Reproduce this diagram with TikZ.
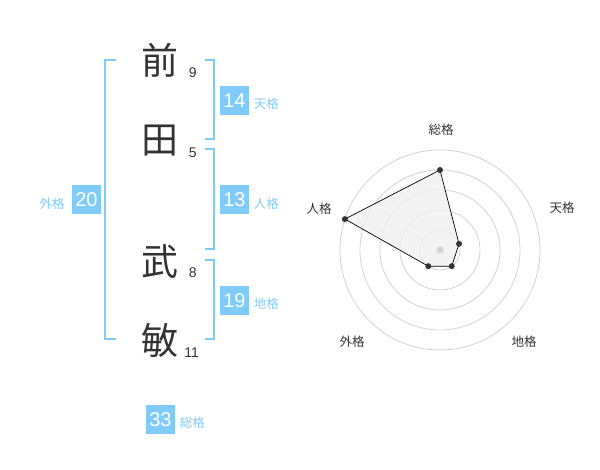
\documentclass[tikz,border=0pt]{standalone}
\usepackage{fontspec}
\setmainfont{Liberation Sans}
\newfontfamily\jpfont{Noto Sans CJK JP}
\usetikzlibrary{positioning}
\definecolor{kakublue}{RGB}{127,204,250}
\definecolor{inkgray}{RGB}{51,51,51}
\definecolor{ringgray}{RGB}{210,210,210}
\definecolor{areagray}{RGB}{240,240,240}

\begin{document}
\begin{tikzpicture}[x=1pt,y=-1pt,
 kanji/.style={font=\jpfont\fontsize{37}{37}\selectfont,text=inkgray,inner sep=0pt},
 strokes/.style={font=\fontsize{14}{14}\selectfont,text=inkgray,inner sep=0pt},
 kakubox/.style={fill=kakublue,text=white,minimum size=29pt,inner sep=0pt,font=\fontsize{20}{20}\selectfont},
 kakuname/.style={font=\jpfont\fontsize{12.5}{12.5}\selectfont,text=kakublue,inner sep=0pt},
 radarname/.style={font=\jpfont\fontsize{12.5}{12.5}\selectfont,text=inkgray,inner sep=0pt},
 bracket/.style={kakublue,line width=1.6pt},
 ring/.style={ringgray,line width=0.8pt},
 dot/.style={circle,fill=inkgray,inner sep=0pt,minimum size=6pt}]
 \useasboundingbox (0,0) rectangle (600,470);

 \node[kanji] (k1) at (160,60) {前};
 \node[kanji] (k2) at (160,141) {田};
 \node[kanji] (k3) at (160,262) {武};
 \node[kanji] (k4) at (160,340) {敏};
 \node[strokes] (s1) at (192.7,72.7) {9};
 \node[strokes] (s2) at (192.7,152.7) {5};
 \node[strokes] (s3) at (192.7,272.7) {8};
 \node[strokes] (s4) at (191.7,352.7) {11};

 \draw[bracket] (116,60)--(105,60)--(105,339)--(116,339);
 \draw[bracket] (205,60)--(214,60)--(214,139)--(205,139);
 \draw[bracket] (205,149)--(214,149)--(214,249)--(205,249);
 \draw[bracket] (205,260)--(214,260)--(214,339)--(205,339);

 \node[kakubox] (ten) at (234.5,100.3) {14};
 \node[kakubox] (jin) at (234.5,200) {13};
 \node[kakubox] (chi) at (234.5,300.3) {19};
 \node[kakubox] (gai) at (86.5,200) {20};
 \node[kakubox] (sou) at (160.5,419.3) {33};
 \node[kakuname,right=4.5pt of ten,yshift=-3.5pt] (tenname) {天格};
 \node[kakuname,right=4.5pt of jin,yshift=-3.5pt] (jinname) {人格};
 \node[kakuname,right=4.5pt of chi,yshift=-3.5pt] (chiname) {地格};
 \node[kakuname,left=7pt of gai,yshift=-3.5pt] (gainame) {外格};
 \node[kakuname,right=4.5pt of sou,yshift=-3.5pt] (souname) {総格};

 \begin{scope}[shift={(440,250)},yscale=-1]
  \foreach \r in {20,40,60,80,100}
   \draw[ring] (0,0) circle (\r);
  \coordinate (psou) at (90:80);
  \coordinate (pten) at (18:20);
  \coordinate (pchi) at (-54:20);
  \coordinate (pgai) at (-126:20);
  \coordinate (pjin) at (162:100);
  \draw[fill=areagray,fill opacity=0.8,line width=0.7pt] (psou)--(pten)--(pchi)--(pgai)--(pjin)--cycle;
  \fill[ringgray] (0,0) circle (3.5);
  \foreach \p in {psou,pten,pchi,pgai,pjin}
   \node[dot] at (\p) {};
 \end{scope}

 \node[radarname] (rsou) at (441,130) {総格};
 \node[radarname] (rten) at (562,208) {天格};
 \node[radarname] (rchi) at (524,342) {地格};
 \node[radarname] (rgai) at (352,342) {外格};
 \node[radarname] (rjin) at (319,209) {人格};
\end{tikzpicture}
\end{document}
